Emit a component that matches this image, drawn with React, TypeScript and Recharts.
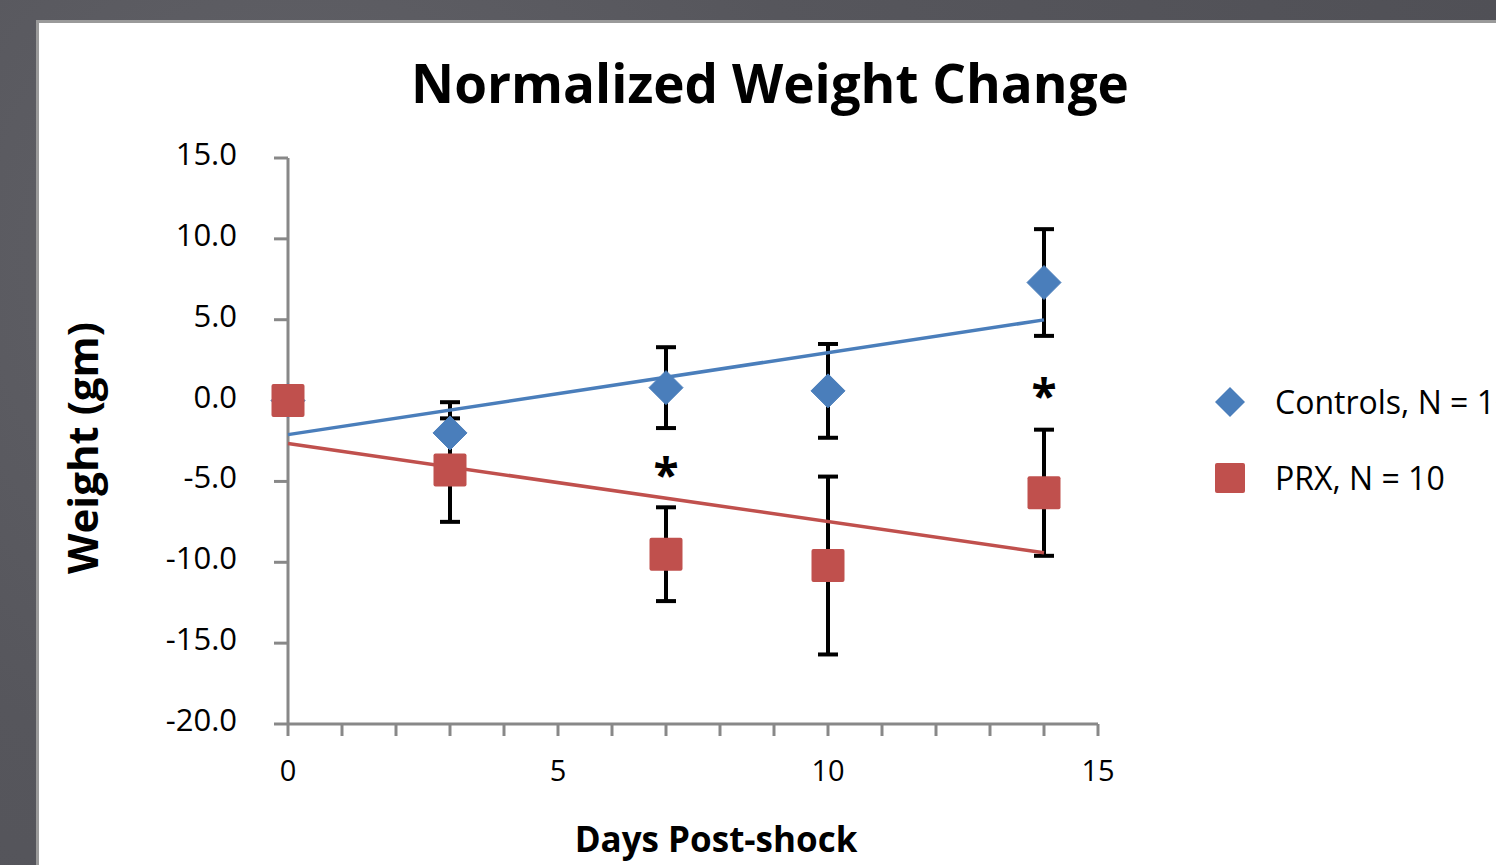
import React from "react";
import { ComposedChart, ErrorBar, Scatter, XAxis, YAxis } from "recharts";

const days = [0, 3, 7, 10, 14];
const controlsMean = [0, -2.0, 0.8, 0.6, 7.3];
const controlsErr = [0, 1.9, 2.5, 2.9, 3.3];
const prxMean = [0, -4.3, -9.5, -10.2, -5.7];
const prxErr = [0, 3.2, 2.9, 5.5, 3.9];

// days marked significant, and the height of the asterisk
const sigDays = [7, 14];
const sigY = [-4.2, 0.7];

const xTicks = [0, 1, 2, 3, 4, 5, 6, 7, 8, 9, 10, 11, 12, 13, 14, 15];
const yTicks = [-20, -15, -10, -5, 0, 5, 10, 15];

const BLUE = "#4a7ebb";
const RED = "#c0504d";
const AXIS = "#888888";
const FONT = "'Open Sans', 'Noto Sans', sans-serif";

const W = 1496;
const H = 865;

const toPoints = (ys: number[], errs: number[]) =>
  days.map((x, i) => ({ x, y: ys[i], err: errs[i] }));

// least squares line, like the excel trendline
function trend(ys: number[]) {
  const n = days.length;
  const mx = days.reduce((a, b) => a + b, 0) / n;
  const my = ys.reduce((a, b) => a + b, 0) / n;
  let sxy = 0;
  let sxx = 0;
  days.forEach((x, i) => {
    sxy += (x - mx) * (ys[i] - my);
    sxx += (x - mx) * (x - mx);
  });
  const slope = sxy / sxx;
  const b = my - slope * mx;
  const x0 = days[0];
  const x1 = days[n - 1];
  return [
    { x: x0, y: b + slope * x0 },
    { x: x1, y: b + slope * x1 }
  ];
}

const controlsData = toPoints(controlsMean, controlsErr);
const prxData = toPoints(prxMean, prxErr);
const sigData = sigDays.map((x, i) => ({ x, y: sigY[i] }));

const Diamond = (props: any) => {
  const { cx, cy } = props;
  const r = 17;
  return (
    <polygon
      points={`${cx},${cy - r} ${cx + r},${cy} ${cx},${cy + r} ${cx - r},${cy}`}
      fill={BLUE}
      stroke={BLUE}
      strokeWidth={1}
      strokeLinejoin="round"
    />
  );
};

const Square = (props: any) => {
  const { cx, cy } = props;
  const s = 33;
  return <rect x={cx - s / 2} y={cy - s / 2} width={s} height={s} rx={2} fill={RED} />;
};

const Star = (props: any) => {
  const { cx, cy } = props;
  return (
    <text
      x={cx}
      y={cy + 24}
      textAnchor="middle"
      fontSize={46}
      fontWeight={700}
      fontFamily={FONT}
      fill="#000"
    >
      *
    </text>
  );
};

const Nothing = () => <g />;

export default function App() {
  return (
    <div
      style={{
        position: "fixed",
        left: 0,
        top: 0,
        width: W,
        height: H,
        overflow: "hidden",
        background:
          "radial-gradient(circle at 20% 30%, #626268 0%, #56565c 40%, #4f4f55 100%)"
      }}
    >
      <div
        style={{
          position: "absolute",
          left: 36,
          top: 20,
          width: W,
          height: H,
          background: "#fff",
          border: "3px solid #9a9a9a"
        }}
      />
      <div style={{ position: "absolute", left: 0, top: 0 }}>
        <ComposedChart
          width={W}
          height={H}
          margin={{ top: 158, right: W - 1098, bottom: 81, left: 168 }}
        >
          <XAxis
            type="number"
            dataKey="x"
            domain={[0, 15]}
            ticks={xTicks}
            interval={0}
            height={60}
            tickFormatter={(v: number) => (v % 5 === 0 ? String(v) : "")}
            tickSize={12}
            tickMargin={24}
            axisLine={{ stroke: AXIS, strokeWidth: 3 }}
            tickLine={{ stroke: AXIS, strokeWidth: 3 }}
            tick={{ fill: "#000", fontSize: 29, fontFamily: FONT }}
          />
          <YAxis
            type="number"
            dataKey="y"
            domain={[-20, 15]}
            ticks={yTicks}
            interval={0}
            width={120}
            tickFormatter={(v: number) => v.toFixed(1)}
            tickSize={14}
            tickMargin={37}
            axisLine={{ stroke: AXIS, strokeWidth: 3 }}
            tickLine={{ stroke: AXIS, strokeWidth: 3 }}
            tick={{ fill: "#000", fontSize: 31, fontFamily: FONT, dy: -4 }}
          />
          <Scatter
            data={trend(controlsMean)}
            line={{ stroke: BLUE, strokeWidth: 3.5 }}
            lineType="joint"
            shape={Nothing}
            isAnimationActive={false}
          />
          <Scatter
            data={trend(prxMean)}
            line={{ stroke: RED, strokeWidth: 3.5 }}
            lineType="joint"
            shape={Nothing}
            isAnimationActive={false}
          />
          <Scatter data={controlsData} shape={Diamond} isAnimationActive={false}>
            <ErrorBar dataKey="err" direction="y" width={10} stroke="#000" strokeWidth={4} />
          </Scatter>
          <Scatter data={prxData} shape={Square} isAnimationActive={false}>
            <ErrorBar dataKey="err" direction="y" width={10} stroke="#000" strokeWidth={4} />
          </Scatter>
          <Scatter data={sigData} shape={Star} isAnimationActive={false} />
        </ComposedChart>
      </div>
      <svg
        width={W}
        height={H}
        style={{ position: "absolute", left: 0, top: 0, pointerEvents: "none" }}
      >
        <text
          x={770}
          y={103}
          textAnchor="middle"
          fontFamily={FONT}
          fontWeight={700}
          fontSize={53}
          fill="#000"
        >
          Normalized Weight Change
        </text>
        <text
          x={716}
          y={852}
          textAnchor="middle"
          fontFamily={FONT}
          fontWeight={700}
          fontSize={35}
          fill="#000"
        >
          Days Post-shock
        </text>
        <text
          transform="translate(98 448) rotate(-90)"
          textAnchor="middle"
          fontFamily={FONT}
          fontWeight={700}
          fontSize={42}
          fill="#000"
        >
          Weight (gm)
        </text>
        <polygon points="1230,387 1245,402 1230,417 1215,402" fill={BLUE} />
        <text x={1275} y={414} fontFamily={FONT} fontSize={32} fill="#000">
          Controls, N = 10
        </text>
        <rect x={1215} y={463} width={30} height={30} rx={2} fill={RED} />
        <text x={1275} y={490} fontFamily={FONT} fontSize={32} fill="#000">
          PRX, N = 10
        </text>
      </svg>
    </div>
  );
}
